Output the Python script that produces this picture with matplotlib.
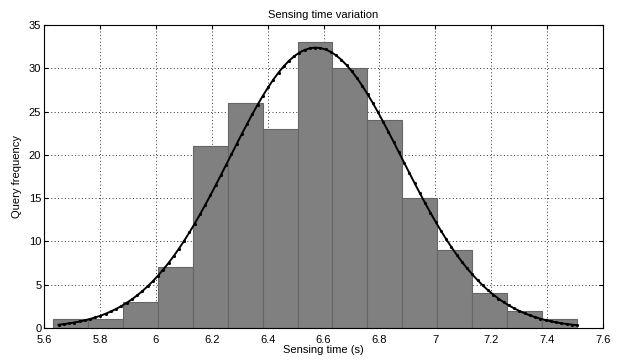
import numpy as np
import matplotlib
matplotlib.use('Agg')
import matplotlib.pyplot as plt

plt.rcParams['font.family'] = ['Liberation Sans', 'DejaVu Sans']

# histogram
bin_start = 5.632
bin_width = 0.125
counts = [1, 1, 3, 7, 21, 26, 23, 33, 30, 24, 15, 9, 4, 2, 1]

x_ticks = [5.6, 5.8, 6.0, 6.2, 6.4, 6.6, 6.8, 7.0, 7.2, 7.4, 7.6]
x_tick_labels = ['5.6', '5.8', '6', '6.2', '6.4', '6.6', '6.8', '7', '7.2', '7.4', '7.6']
y_ticks = [0, 5, 10, 15, 20, 25, 30, 35]

counts = np.array(counts)
edges = bin_start + bin_width * np.arange(len(counts) + 1)
centers = (edges[:-1] + edges[1:]) / 2

# normal fit of the binned data (like histfit)
mu = np.sum(centers * counts) / counts.sum()
sigma = np.sqrt(np.sum(counts * (centers - mu) ** 2) / counts.sum())
xf = np.linspace(edges[0] + 0.02, edges[-1], 100)
yf = counts.sum() * bin_width / (sigma * np.sqrt(2 * np.pi)) * np.exp(-0.5 * ((xf - mu) / sigma) ** 2)

fig = plt.figure(figsize=(6.21, 3.6), dpi=100)
ax = fig.add_axes([0.0709, 0.0889, 0.9001, 0.8417])

ax.bar(centers, counts, width=bin_width, color='#808080', edgecolor='#666666',
       linewidth=0.8, zorder=2)
ax.plot(xf, yf, 'k.-', linewidth=1.4, markersize=2.5, zorder=3)

ax.set_xlim(5.6, 7.6)
ax.set_ylim(0, 35)
ax.set_xticks(x_ticks)
ax.set_xticklabels(x_tick_labels)
ax.set_yticks(y_ticks)
ax.grid(True, linestyle=(0, (1, 2.5)), color='#333333', linewidth=0.7, zorder=0)
ax.set_axisbelow(True)
ax.tick_params(direction='in', top=True, right=True, labelsize=8, length=3)
ax.tick_params(axis='x', pad=5)
ax.tick_params(axis='y', pad=2)
for s in ax.spines.values():
    s.set_linewidth(0.8)

ax.set_title('Sensing time variation', fontsize=8, pad=5)
ax.set_xlabel('Sensing time (s)', fontsize=8, labelpad=0)
ax.set_ylabel('Query frequency', fontsize=8, labelpad=5)

fig.savefig('out.png', dpi=100)
